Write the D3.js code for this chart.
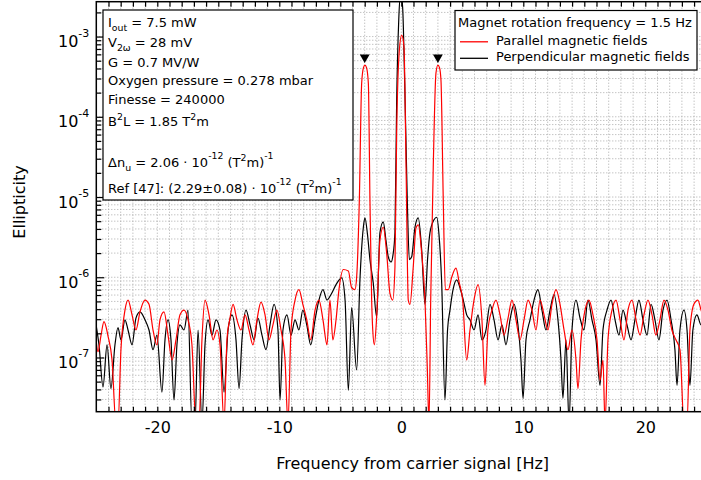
<!DOCTYPE html>
<html><head><meta charset="utf-8">
<script src="https://cdn.jsdelivr.net/npm/d3@7"></script>
<style>
body{margin:0;background:#fff}
svg{display:block;font-family:"DejaVu Sans",sans-serif}
</style>
</head><body>
<svg id="chart" width="701" height="480"></svg>
<script>
// ---------------- data ----------------
const perpFreq = [-25.0,-24.78,-24.45,-24.12,-23.80,-23.47,-23.22,-22.98,-22.65,-22.40,-22.07,-21.75,-21.42,-21.01,-20.68,-20.35,-20.03,-19.62,-19.37,-19.12,-18.88,-18.63,-18.39,-18.14,-17.81,-17.48,-17.16,-16.91,-16.66,-16.34,-16.09,-15.84,-15.52,-15.19,-14.86,-14.53,-14.20,-13.88,-13.55,-13.30,-13.06,-12.73,-12.40,-12.07,-11.75,-11.42,-11.09,-10.76,-10.43,-10.11,-9.94,-9.70,-9.37,-9.04,-8.71,-8.39,-8.07,-7.75,-7.42,-7.07,-6.75,-6.42,-6.09,-5.76,-5.35,-4.88,-4.61,-4.34,-4.07,-3.66,-3.39,-3.11,-2.98,-2.77,-2.57,-2.30,-2.02,-1.75,-1.48,-1.26,-1.07,-0.84,-0.68,-0.52,-0.38,-0.21,-0.05,0.11,0.28,0.49,0.66,0.85,1.12,1.39,1.67,1.94,2.15,2.35,2.68,2.90,3.09,3.31,3.58,3.79,3.99,4.24,4.54,4.81,5.08,5.36,5.63,5.96,6.29,6.61,6.94,7.27,7.60,7.93,8.25,8.58,8.91,9.24,9.56,9.81,9.98,10.22,10.55,10.88,11.20,11.53,11.86,12.19,12.52,12.84,13.09,13.25,13.50,13.75,13.99,14.32,14.65,14.97,15.30,15.63,15.96,16.29,16.53,16.86,17.19,17.52,17.84,18.17,18.50,18.83,19.15,19.48,19.81,20.14,20.47,20.79,21.12,21.45,21.78,22.11,22.43,22.60,22.84,23.17,23.42,23.66,23.90,24.23,24.57,24.90];
const perpVal = [2.45e-7,1.44e-7,4.3e-8,1.44e-7,4.1e-8,1.44e-7,2.35e-7,1.66e-7,2.95e-7,2.2e-7,1.44e-7,3.1e-7,3.7e-7,2.95e-7,2.2e-7,1.25e-7,1.9e-7,3.7e-8,1.66e-7,2.95e-7,1.66e-7,2.95e-8,1.44e-7,2.55e-7,2.2e-7,3.9e-7,1.5e-8,1.5e-8,2.2e-7,1.5e-8,1.44e-7,2.95e-7,1.9e-7,2.95e-7,2.2e-7,3.7e-8,2.2e-7,3.4e-7,1.66e-7,4.1e-8,1.66e-7,3.9e-7,2.55e-7,1.66e-7,3.1e-7,1.9e-7,1.25e-7,2.55e-7,4.6e-7,2.2e-7,2.95e-8,2.2e-7,3.4e-7,1.9e-7,2.95e-7,2.2e-7,3.9e-7,2.55e-7,1.44e-7,2.95e-7,5.2e-7,7.0e-7,5.2e-7,6.1e-7,8.1e-7,9.8e-7,5.2e-7,3.9e-8,4.2e-7,7.0e-8,9.3e-7,4.2e-6,5.5e-6,3.4e-6,1.66e-6,8.5e-7,3.2e-7,3.6e-6,4.9e-6,2.9e-6,1.8e-6,1.55e-6,1.9e-6,3.6e-6,1.6e-4,1.6e-3,3.5e-3,2.3e-3,2.6e-4,9.2e-6,1.66e-6,1.8e-6,4.2e-6,5.5e-6,2.2e-6,4.6e-7,1.66e-6,3.6e-6,5.2e-6,5.6e-6,3.4e-6,8.5e-7,2.95e-8,2.2e-7,3.9e-7,7.0e-7,9.3e-7,7.4e-7,5.2e-7,3.4e-7,2.95e-7,2.2e-7,3.4e-7,1.66e-7,2.2e-7,4.6e-7,2.95e-7,1.66e-7,2.55e-7,1.44e-7,2.95e-7,4.6e-7,2.55e-7,9.3e-8,3.1e-8,1.66e-7,2.95e-7,5.2e-7,7.0e-7,3.9e-7,2.2e-7,3.9e-7,6.1e-7,2.95e-7,9.3e-8,3.1e-8,1.66e-7,1.5e-8,2.2e-7,5.2e-7,3.1e-7,2.2e-7,5.2e-7,2.95e-7,1.66e-7,4.5e-8,2.2e-7,3.9e-7,5.2e-7,2.95e-7,1.9e-7,3.9e-7,2.55e-7,1.66e-7,2.95e-7,5.2e-7,2.95e-7,1.9e-7,4.6e-7,2.95e-7,1.66e-7,3.9e-7,5.2e-7,2.95e-7,1.25e-7,4.5e-8,2.2e-7,3.9e-7,2.2e-7,4.5e-8,2.2e-7,3.4e-7,2.55e-7,2.95e-7];

const parFreq = [-25.0,-24.86,-24.61,-24.37,-24.04,-23.71,-23.39,-23.22,-22.98,-22.65,-22.40,-22.07,-21.75,-21.42,-21.01,-20.68,-20.35,-20.03,-19.78,-19.45,-19.12,-18.79,-18.47,-18.14,-17.81,-17.48,-17.16,-16.83,-16.58,-16.34,-16.09,-15.76,-15.43,-15.11,-14.86,-14.53,-14.29,-14.04,-13.79,-13.47,-13.14,-12.81,-12.48,-12.16,-11.83,-11.50,-11.17,-10.84,-10.52,-10.20,-9.86,-9.53,-9.29,-9.04,-8.71,-8.39,-8.07,-7.75,-7.42,-7.07,-6.75,-6.42,-6.09,-5.85,-5.61,-5.35,-5.11,-4.75,-4.34,-4.07,-3.80,-3.66,-3.44,-3.25,-3.10,-2.98,-2.85,-2.70,-2.57,-2.43,-2.34,-2.21,-2.02,-1.75,-1.48,-1.20,-0.93,-0.70,-0.52,-0.38,-0.16,0.03,0.22,0.39,0.57,0.71,0.98,1.20,1.39,1.67,1.94,2.13,2.27,2.41,2.62,2.84,3.00,3.13,3.25,3.44,3.61,3.85,4.13,4.48,4.75,5.03,5.36,5.63,5.96,6.29,6.61,6.86,7.10,7.43,7.76,8.09,8.42,8.75,9.07,9.40,9.73,10.06,10.39,10.71,11.04,11.37,11.70,12.02,12.35,12.68,13.01,13.34,13.66,13.99,14.32,14.48,14.73,15.06,15.38,15.71,16.04,16.29,16.53,16.70,16.94,17.27,17.60,17.93,18.25,18.58,18.91,19.24,19.57,19.89,20.22,20.55,20.87,21.20,21.53,21.86,22.18,22.51,22.84,23.17,23.42,23.66,23.98,24.31,24.57,24.90];
const parVal = [1.56e-7,1.18e-7,1.9e-7,2.8e-7,1.85e-7,9.3e-8,1.5e-8,1.5e-8,1.25e-7,3.9e-7,5.2e-7,3.4e-7,2.2e-7,3.7e-7,5.2e-7,4.6e-7,2.2e-7,1.44e-7,2.95e-7,3.7e-7,1.9e-7,9.3e-8,1.66e-7,3.4e-7,3.9e-7,2.95e-7,1.44e-7,1.5e-8,1.5e-8,1.66e-7,5.2e-7,3.4e-7,1.66e-7,2.2e-7,1.44e-7,1.5e-8,1.66e-7,3.1e-7,4.6e-7,2.95e-7,2.2e-7,3.4e-7,2.2e-7,1.44e-7,2.95e-7,4.9e-7,3.4e-7,1.66e-7,2.55e-7,3.9e-7,2.2e-7,9.3e-8,1.5e-8,2.2e-7,5.2e-7,7.0e-7,4.6e-7,2.95e-7,1.66e-7,3.9e-7,5.2e-7,2.95e-7,1.44e-7,5.2e-7,1.66e-7,2.95e-7,7.0e-7,1.25e-6,1.2e-6,7.4e-7,7.0e-7,1.0e-6,9.2e-6,2.6e-4,4.1e-4,4.4e-4,4.1e-4,2.6e-4,9.2e-6,5.2e-7,2.2e-7,1.44e-7,3.2e-7,2.9e-6,4.2e-6,2.0e-6,6.3e-7,5.2e-7,1.35e-6,6.3e-5,6.8e-4,1.04e-3,7.4e-4,2.4e-5,5.2e-7,4.6e-7,1.35e-6,4.1e-6,4.5e-6,2.0e-6,5.2e-7,7.5e-8,1.5e-8,5.2e-7,2.4e-5,3.5e-4,4.4e-4,4.1e-4,2.9e-4,9.2e-6,7.0e-7,7.0e-7,1.0e-6,1.3e-6,8.5e-7,5.2e-7,9.3e-8,2.2e-7,5.2e-7,8.1e-7,2.95e-7,4.5e-8,2.2e-7,3.9e-7,5.2e-7,3.4e-7,1.9e-7,3.1e-7,5.2e-7,2.95e-7,1.66e-7,2.95e-7,5.2e-7,3.9e-7,2.2e-7,5.2e-7,3.4e-7,2.2e-7,4.6e-7,7.0e-7,4.6e-7,2.2e-7,1.25e-7,2.2e-7,9.3e-8,4.1e-8,1.66e-7,3.9e-7,5.2e-7,3.4e-7,1.66e-7,5.2e-8,9.3e-8,1.5e-8,1.66e-7,3.9e-7,5.2e-7,2.95e-7,1.66e-7,3.9e-7,5.2e-7,2.95e-7,1.9e-7,3.4e-7,5.2e-7,3.4e-7,1.9e-7,2.95e-7,5.2e-7,3.9e-7,2.2e-7,1.66e-7,1.25e-7,1.5e-8,1.5e-8,2.2e-7,4.6e-7,5.2e-7,3.9e-7,2.95e-7];

const markerFreq = [-3, 3];
const markerVal = [5.5e-4, 5.5e-4];

const xLabelTicks = [-20, -10, 0, 10, 20];
const yLabelExps = [-7, -6, -5, -4, -3];

const xTitle = "Frequency from carrier signal [Hz]";
const yTitle = "Ellipticity";
const legendTitle = "Magnet rotation frequency = 1.5 Hz";
const seriesNames = ["Parallel magnetic fields", "Perpendicular magnetic fields"];
const seriesColors = ["#ff0000", "#000000"];

// info box lines: [text, mode]
const infoLines = [
  [["I"],["out","sub"],[" = 7.5 mW"]],
  [["V"],["2\u03c9","sub"],[" = 28 mV"]],
  [["G = 0.7 MV/W"]],
  [["Oxygen pressure = 0.278 mbar"]],
  [["Finesse = 240000"]],
  [["B"],["2","sup"],["L = 1.85 T"],["2","sup"],["m"]],
  [["\u0394n"],["u","sub"],[" = 2.06 \u00b7 10"],["-12","sup2"],[" (T"],["2","sup"],["m)"],["-1","sup2"]],
  [["Ref [47]: (2.29\u00b10.08) \u00b7 10"],["-12","sup2"],[" (T"],["2","sup"],["m)"],["-1","sup2"]]
];
const infoBaselines = [27, 46.5, 66.5, 85, 103.5, 126, 167, 193];

// ---------------- layout ----------------
const L = 96.3, T = 1.7, B = 411.7, R = 706.3;
const svg = d3.select("#chart");

const x = d3.scaleLinear().domain([-25, 25]).range([L, R]);
const y = d3.scaleLog().domain([2.11e-8, 2.72e-3]).range([B, T]);

// grid
const gridG = svg.append("g").attr("stroke", "#aaa").attr("stroke-width", 1).attr("stroke-dasharray", "1,2");
const vGrid = d3.range(-24, 25);
gridG.selectAll("line.v").data(vGrid).join("line")
  .attr("x1", d => x(d)).attr("x2", d => x(d)).attr("y1", T).attr("y2", B);
const logTicks = [];
for (let e = -8; e <= -3; e++) for (let k = 1; k <= 9; k++) {
  const v = k * Math.pow(10, e);
  if (v > 2.11e-8 && v < 2.72e-3) logTicks.push(v);
}
gridG.selectAll("line.h").data(logTicks).join("line")
  .attr("x1", L).attr("x2", R).attr("y1", d => y(d)).attr("y2", d => y(d));

// clip
svg.append("clipPath").attr("id", "clip").append("rect")
  .attr("x", L).attr("y", T).attr("width", R - L).attr("height", B - T);

const line = d3.line()
  .x(d => x(d[0])).y(d => y(d[1]))
  .curve(d3.curveMonotoneX);

const perp = perpFreq.map((f, i) => [f, perpVal[i]]);
const par = parFreq.map((f, i) => [f, parVal[i]]);

const plotG = svg.append("g").attr("clip-path", "url(#clip)");
plotG.append("path").datum(perp).attr("d", line)
  .attr("fill", "none").attr("stroke", seriesColors[1]).attr("stroke-width", 1.2);
plotG.append("path").datum(par).attr("d", line)
  .attr("fill", "none").attr("stroke", seriesColors[0]).attr("stroke-width", 1.2);

// axes (ticks inward)
const xTickVals = d3.range(-24, 25);
const axB = svg.append("g").attr("transform", `translate(0,${B})`)
  .call(d3.axisBottom(x).tickValues(xTickVals).tickSizeInner(-5).tickSizeOuter(0).tickPadding(10.4)
    .tickFormat(d => xLabelTicks.includes(d) ? String(d) : ""));
axB.select(".domain").remove();
axB.selectAll("line").attr("stroke", "#000").attr("stroke-width", 1.2);
axB.selectAll("text").attr("font-size", 16).attr("font-family", "DejaVu Sans").attr("fill", "#000");

const axT = svg.append("g").attr("transform", `translate(0,${T})`)
  .call(d3.axisTop(x).tickValues(xTickVals).tickSizeInner(-5).tickSizeOuter(0).tickFormat(""));
axT.select(".domain").remove();
axT.selectAll("line").attr("stroke", "#000").attr("stroke-width", 1.2);

const majorVals = yLabelExps.map(e => Math.pow(10, e));
const minorVals = logTicks.filter(v => !majorVals.some(m => Math.abs(m - v) / m < 1e-6));
const axLm = svg.append("g").attr("transform", `translate(${L},0)`)
  .call(d3.axisLeft(y).tickValues(minorVals).tickSizeInner(-5).tickSizeOuter(0).tickFormat(""));
axLm.select(".domain").remove();
axLm.selectAll("line").attr("stroke", "#000").attr("stroke-width", 1.2);

const axL = svg.append("g").attr("transform", `translate(${L},0)`)
  .call(d3.axisLeft(y).tickValues(majorVals).tickSizeInner(-8).tickSizeOuter(0).tickPadding(7)
    .tickFormat(() => "10"));
axL.select(".domain").remove();
axL.selectAll("line").attr("stroke", "#000").attr("stroke-width", 1.2);
axL.selectAll("text").attr("font-size", 16).attr("font-family", "DejaVu Sans").attr("fill", "#000")
  .attr("dy", 10)
  .each(function(d, i) {
    d3.select(this).append("tspan").attr("font-size", 11).attr("dy", -10.5).text(String(yLabelExps[i]));
  });

// frame
svg.append("rect").attr("x", L).attr("y", T).attr("width", R - L).attr("height", B - T)
  .attr("fill", "none").attr("stroke", "#000").attr("stroke-width", 1.5);

// markers
const tri = d3.symbol().type(d3.symbolTriangle).size(42);
svg.selectAll("path.mk").data(markerFreq).join("path")
  .attr("d", tri)
  .attr("transform", (d, i) => `translate(${x(d)},${y(markerVal[i])}) rotate(180)`)
  .attr("fill", "#000");

// titles
svg.append("text").attr("x", (L + 701) / 2 + 14).attr("y", 468.5).attr("text-anchor", "middle")
  .attr("font-size", 16).text(xTitle);
svg.append("text").attr("transform", "translate(25,202) rotate(-90)").attr("text-anchor", "middle")
  .attr("font-size", 16).text(yTitle);

// rich text helper
function rich(g, x0, yb, parts, fs) {
  const t = g.append("text").attr("x", x0).attr("y", yb).attr("font-size", fs);
  let shift = 0;
  parts.forEach(p => {
    const mode = p[1];
    const target = mode === "sub" ? 4 : mode === "sup" ? -6 : mode === "sup2" ? -8 : 0;
    const ts = t.append("tspan").attr("dy", target - shift).text(p[0]);
    if (mode) ts.attr("font-size", fs * 0.72);
    shift = target;
  });
  return t;
}

// info box
const info = svg.append("g");
info.append("rect").attr("x", 103).attr("y", 10).attr("width", 250).attr("height", 190)
  .attr("fill", "#fff").attr("stroke", "#000").attr("stroke-width", 1.2);
infoLines.forEach((parts, i) => rich(info, 108, infoBaselines[i], parts, 13));

// legend
const lg = svg.append("g");
lg.append("rect").attr("x", 455).attr("y", 10.5).attr("width", 242).attr("height", 59.5)
  .attr("fill", "#fff").attr("stroke", "#000").attr("stroke-width", 1.2);
lg.append("text").attr("x", 458).attr("y", 27.3).attr("font-size", 13).text(legendTitle);
seriesNames.forEach((nm, i) => {
  const yb = 44.8 + i * 16.5;
  lg.append("line").attr("x1", 460).attr("x2", 488).attr("y1", yb - 3).attr("y2", yb - 3)
    .attr("stroke", seriesColors[i]).attr("stroke-width", 1.3);
  lg.append("text").attr("x", 496).attr("y", yb).attr("font-size", 13).text(nm);
});
</script>
</body></html>
